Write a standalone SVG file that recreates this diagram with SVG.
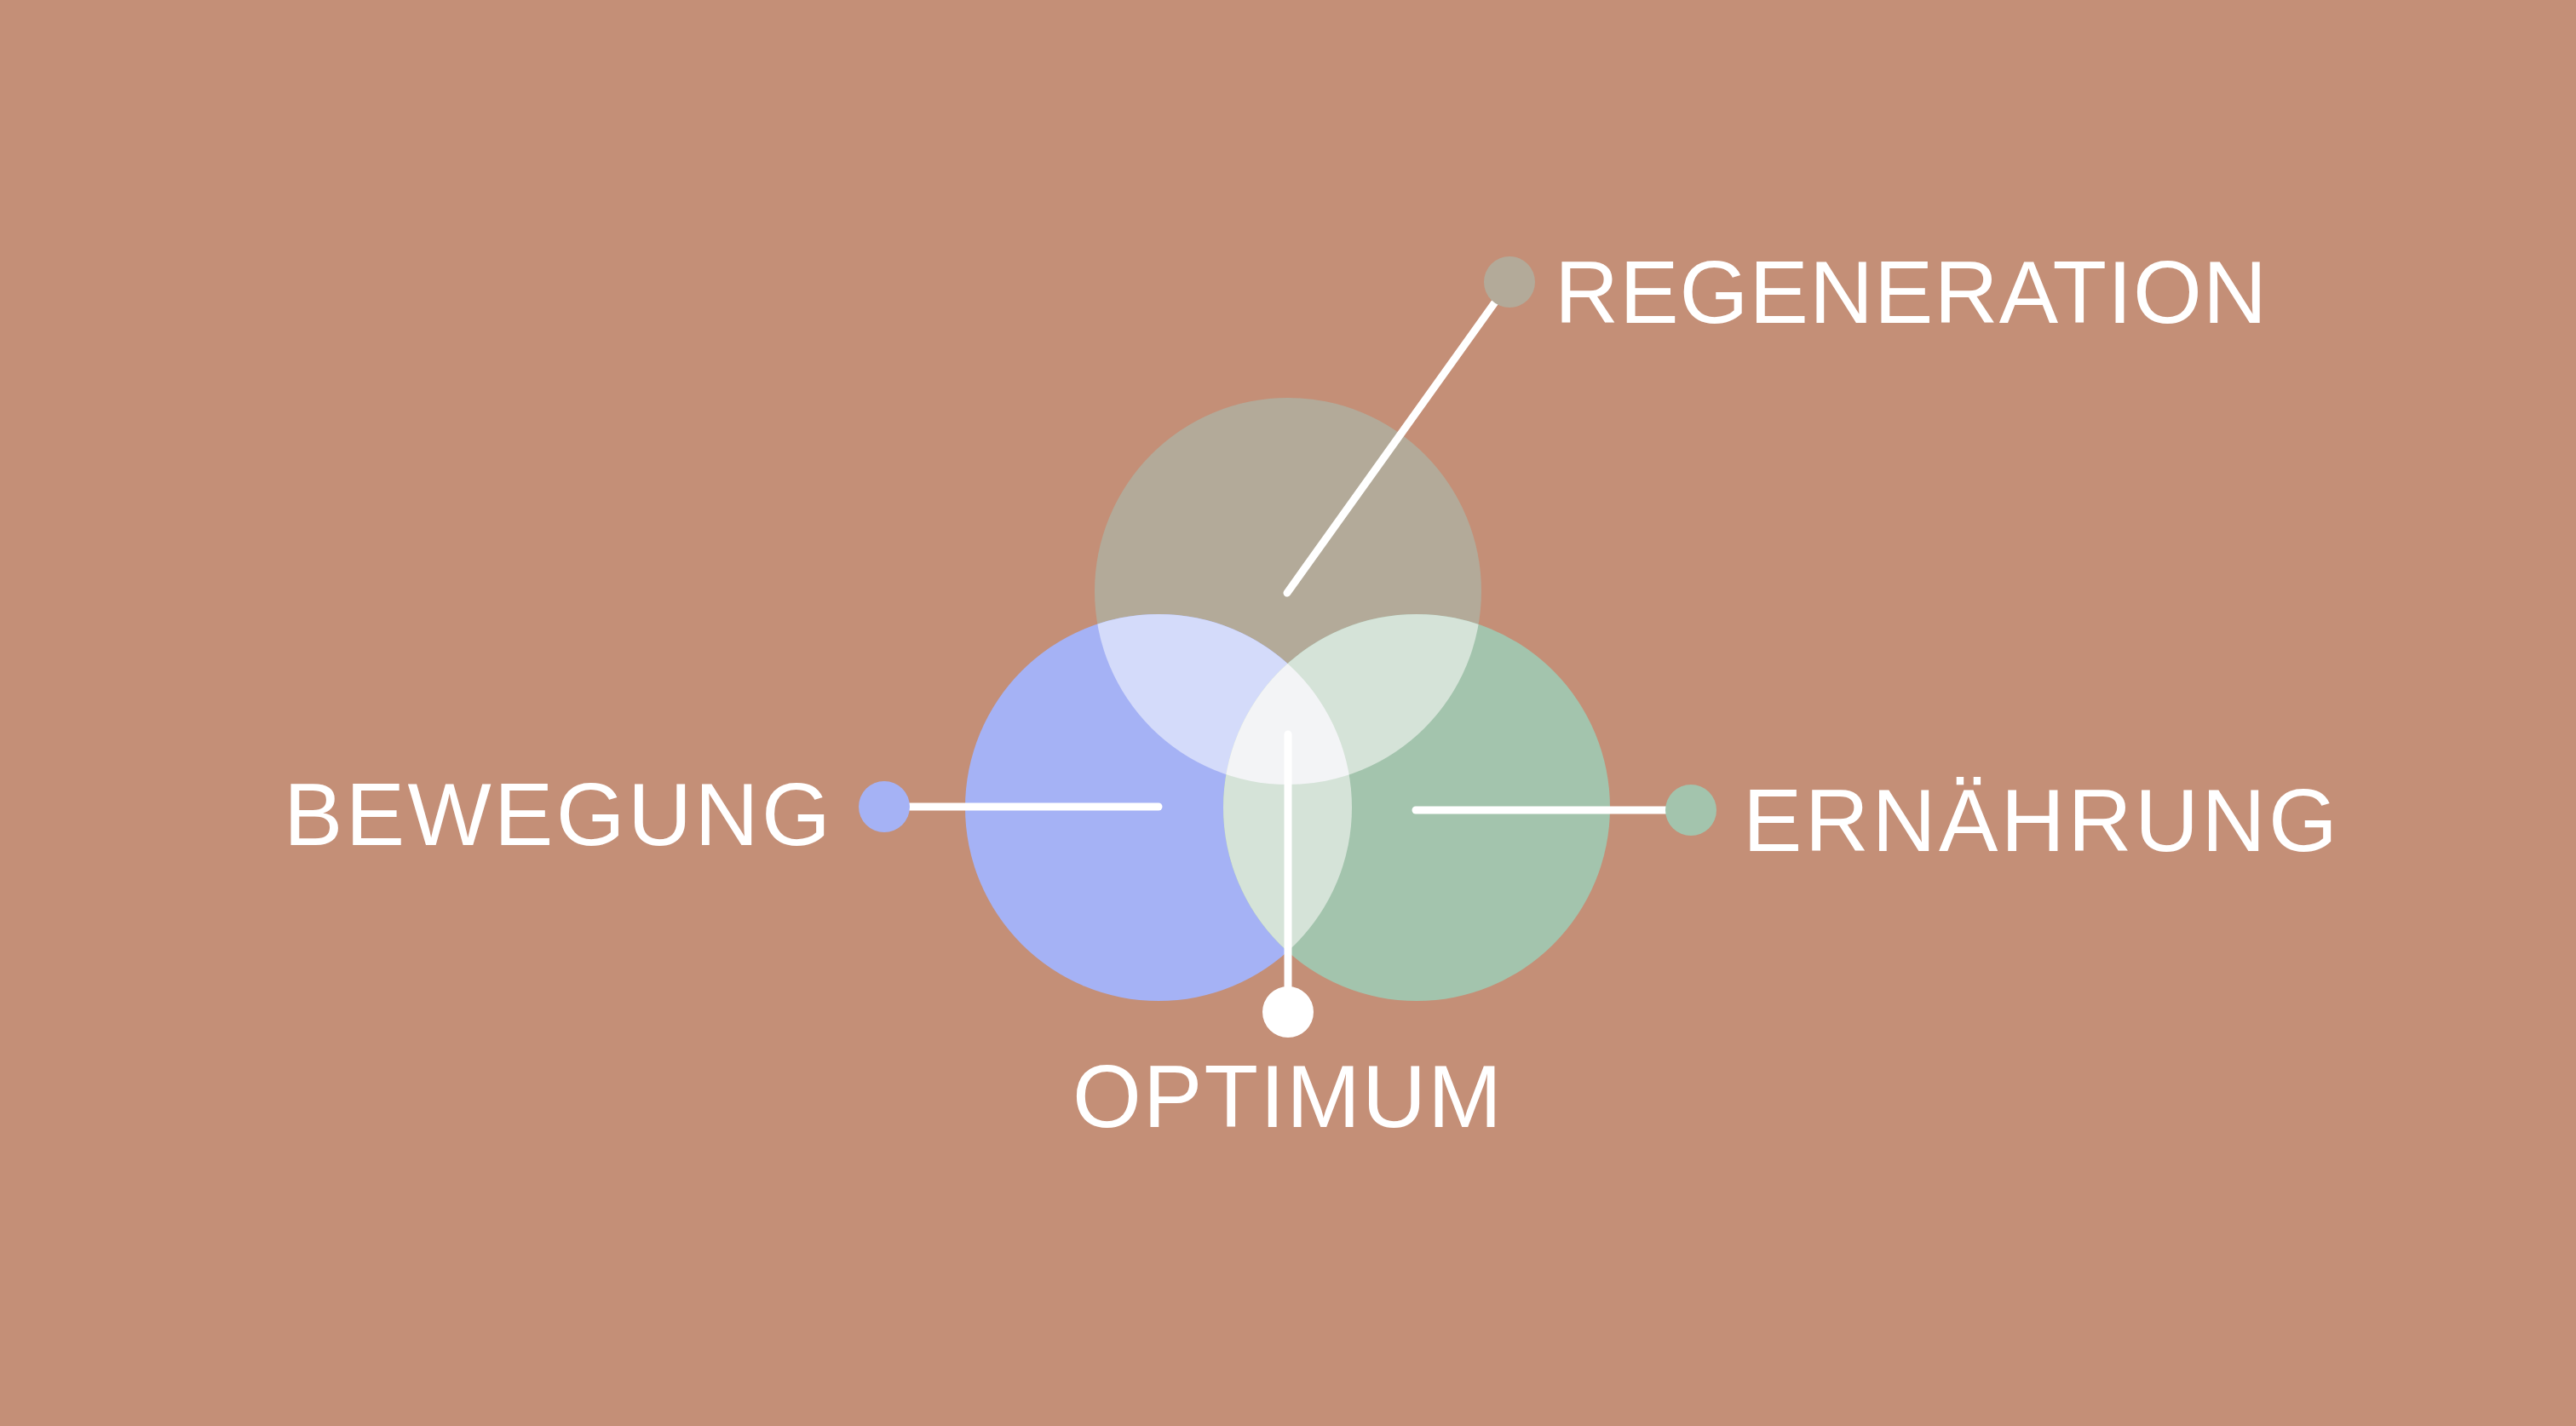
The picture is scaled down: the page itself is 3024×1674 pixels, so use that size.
<svg xmlns="http://www.w3.org/2000/svg" width="3024" height="1674" viewBox="0 0 3024 1674">
<style>
.lbl{font-family:"Liberation Sans",Arial,sans-serif;font-size:104px;fill:#FFFFFF}
.conn{stroke:#FFFFFF;stroke-width:9;stroke-linecap:round;fill:none}
</style>
<defs>
<clipPath id="cT"><circle cx="1512" cy="694" r="227"/></clipPath>
<clipPath id="cL"><circle cx="1360" cy="948" r="227"/></clipPath>
<clipPath id="cR"><circle cx="1663" cy="948" r="227"/></clipPath>
</defs>
<rect x="0" y="0" width="3024" height="1674" fill="#C48F77"/>
<g id="venn">
<circle cx="1512" cy="694" r="227" fill="#B3AA99"/>
<circle cx="1360" cy="948" r="227" fill="#A5B2F5"/>
<circle cx="1663" cy="948" r="227" fill="#A3C4AD"/>
<g clip-path="url(#cT)"><circle cx="1360" cy="948" r="227" fill="#D4DBFA"/><circle cx="1663" cy="948" r="227" fill="#D5E3D8"/></g>
<g clip-path="url(#cL)"><circle cx="1663" cy="948" r="227" fill="#D5E3D8"/></g>
<g clip-path="url(#cT)"><g clip-path="url(#cL)"><circle cx="1663" cy="948" r="227" fill="#F3F4F6"/></g></g>
</g>
<g id="connectors">
<line class="conn" x1="1511" y1="696" x2="1772" y2="331"/>
<line class="conn" x1="1038" y1="947" x2="1360" y2="947"/>
<line class="conn" x1="1662" y1="951" x2="1985" y2="951"/>
<line class="conn" x1="1512" y1="862" x2="1512" y2="1188"/>
</g>
<g id="regeneration">
<circle cx="1772" cy="331" r="30" fill="#B3AA99"/>
<text class="lbl" x="1825" y="379" textLength="836" lengthAdjust="spacing">REGENERATION</text>
</g>
<g id="bewegung">
<circle cx="1038" cy="947" r="30" fill="#A5B2F5"/>
<text class="lbl" x="333" y="992" textLength="642" lengthAdjust="spacing">BEWEGUNG</text>
</g>
<g id="ernaehrung">
<circle cx="1985" cy="951" r="30" fill="#A3C4AD"/>
<text class="lbl" x="2046" y="999" textLength="698" lengthAdjust="spacing">ERNÄHRUNG</text>
</g>
<g id="optimum">
<circle cx="1512" cy="1188" r="30" fill="#FFFFFF"/>
<text class="lbl" x="1259" y="1323" textLength="504" lengthAdjust="spacing">OPTIMUM</text>
</g>
</svg>
